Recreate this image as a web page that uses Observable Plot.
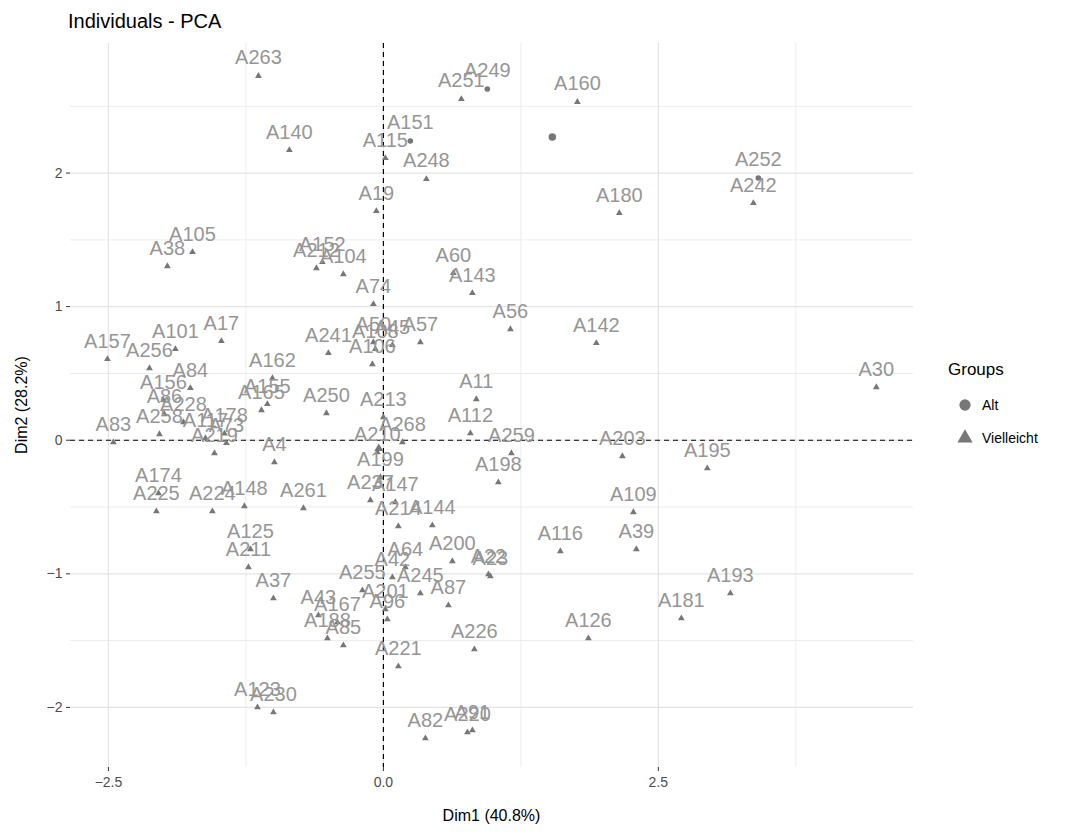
<!DOCTYPE html>
<html>
<head>
<meta charset="utf-8">
<script src="https://cdn.jsdelivr.net/npm/d3@7"></script>
<script src="https://cdn.jsdelivr.net/npm/@observablehq/plot@0.6"></script>
<style>
  html, body { margin: 0; padding: 0; background: #fff; }
  #wrap { position: relative; width: 1072px; height: 832px; font-family: "Liberation Sans", Arial, sans-serif; }
  #chart { position: absolute; left: 0; top: 0; }
  #title { position: absolute; left: 68px; top: 10px; font-size: 20px; color: #000; }
  #xlab { position: absolute; left: 70px; width: 843px; top: 807px; text-align: center; font-size: 16px; color: #000; }
  #ylab { position: absolute; left: 22px; top: 405px; font-size: 16px; color: #000; transform: translate(-50%, -50%) rotate(-90deg); white-space: nowrap; }
  #legend { position: absolute; left: 948px; top: 360px; }
  #legend .ttl { font-size: 17px; color: #000; margin-bottom: 8px; }
  #legend .item { display: flex; align-items: center; height: 33px; font-size: 14px; color: #000; }
  #legend svg { margin-right: 8px; margin-left: 8px; }
  svg [aria-label="x-axis tick"], svg [aria-label="y-axis tick"] { stroke: #333; }
  svg [aria-label="x-axis tick label"], svg [aria-label="y-axis tick label"] { fill: #4d4d4d; }
</style>
</head>
<body>
<div id="wrap">
  <div id="chart"></div>
  <div id="title">Individuals - PCA</div>
  <div id="xlab">Dim1 (40.8%)</div>
  <div id="ylab">Dim2 (28.2%)</div>
  <div id="legend"></div>
</div>
<script>
// ---- data ----
const names = [
  "A263","A140","A105","A38","A212","A152","A104","A249","A251","A160",
  "A151","A115","A248","A19","A180","A60","A143","A252","A242","A30",
  "A203","A195","A109","A39","A193","A181","A116","A126","A200","A23",
  "A22","A87","A245","A64","A42","A255","A201","A96","A221","A226",
  "A82","A91","A220","A74","A57","A50","A45","A106","A108","A11",
  "A112","A259","A198","A213","A268","A210","A199","A237","A147","A214",
  "A144","A157","A101","A256","A17","A241","A162","A84","A156","A86",
  "A258","A83","A228","A117","A178","A73","A219","A155","A165","A250",
  "A4","A174","A225","A224","A148","A261","A125","A211","A37","A43",
  "A167","A188","A85","A123","A230","A142","A56"
];
const dim1 = [
  -1.136,-0.855,-1.736,-1.964,-0.609,-0.555,-0.364,0.945,0.709,1.764,
  0.245,0.018,0.391,-0.064,2.145,0.636,0.809,3.409,3.364,4.482,
  2.173,2.945,2.273,2.300,3.155,2.709,1.609,1.864,0.627,0.973,
  0.955,0.591,0.336,0.200,0.082,-0.191,0.018,0.036,0.136,0.827,
  0.382,0.809,0.764,-0.091,0.336,-0.091,0.082,-0.100,-0.073,0.845,
  0.791,1.164,1.045,0.000,0.173,-0.055,-0.027,-0.118,0.109,0.136,
  0.445,-2.509,-1.891,-2.127,-1.473,-0.500,-1.009,-1.755,-2.000,-1.991,
  -2.036,-2.455,-1.818,-1.618,-1.445,-1.427,-1.536,-1.055,-1.109,-0.518,
  -0.991,-2.045,-2.064,-1.555,-1.264,-0.727,-1.209,-1.227,-1.000,-0.591,
  -0.418,-0.509,-0.364,-1.145,-1.000,1.936,1.155
];
const dim2 = [
  2.727,2.172,1.408,1.303,1.288,1.333,1.243,2.629,2.554,2.532,
  2.240,2.112,1.955,1.715,1.700,1.251,1.101,1.963,1.775,0.397,
  -0.120,-0.210,-0.539,-0.816,-1.146,-1.333,-0.831,-1.483,-0.906,-1.019,
  -1.004,-1.236,-1.146,-0.951,-1.026,-1.124,-1.266,-1.341,-1.693,-1.566,
  -2.232,-2.172,-2.187,1.019,0.734,0.734,0.712,0.569,0.682,0.307,
  0.052,-0.097,-0.315,0.172,-0.015,-0.090,-0.277,-0.449,-0.464,-0.644,
  -0.637,0.607,0.682,0.539,0.742,0.652,0.464,0.390,0.300,0.195,
  0.045,-0.015,0.135,0.015,0.050,-0.022,-0.097,0.270,0.225,0.202,
  -0.165,-0.397,-0.532,-0.532,-0.494,-0.509,-0.816,-0.951,-1.184,-1.311,
  -1.363,-1.483,-1.536,-2.000,-2.037,0.727,0.831
];
const groups = names.map(n => ["A249","A151","A252"].includes(n) ? "Alt" : "Vielleicht");
const groupNames = ["Alt", "Vielleicht"];
const groupMeans = [[1.536, 2.270], [-0.042, -0.062]];
const xTicks = [-2.5, 0, 2.5];
const yTicks = [-2, -1, 0, 1, 2];
const xMinor = [-1.25, 1.25, 3.75];
const yMinor = [-1.5, -0.5, 0.5, 1.5, 2.5];

const inds = names.map((n, i) => ({name: n, x: dim1[i], y: dim2[i], group: groups[i]}));
const centers = groupNames.map((g, i) => ({group: g, x: groupMeans[i][0], y: groupMeans[i][1]}));

const ptColor = "#777777";
const lblColor = "#969696";

const chart = Plot.plot({
  width: 1072, height: 832,
  marginLeft: 70, marginRight: 159, marginTop: 43, marginBottom: 65,
  style: {fontFamily: "'Liberation Sans', Arial, sans-serif", background: "transparent"},
  x: {domain: [-2.845, 4.82], label: null},
  y: {domain: [-2.45, 2.97], label: null},
  symbol: {domain: groupNames, range: ["circle", "triangle"]},
  marks: [
    Plot.gridX(xMinor, {stroke: "#ececec", strokeOpacity: 1, strokeWidth: 1}),
    Plot.gridY(yMinor, {stroke: "#ececec", strokeOpacity: 1, strokeWidth: 1}),
    Plot.gridX(xTicks, {stroke: "#e4e4e4", strokeOpacity: 1, strokeWidth: 1.2}),
    Plot.gridY(yTicks, {stroke: "#e4e4e4", strokeOpacity: 1, strokeWidth: 1.2}),
    Plot.ruleX([0], {stroke: "#000", strokeWidth: 1.2, strokeDasharray: "5,4"}),
    Plot.ruleY([0], {stroke: "#000", strokeWidth: 1.2, strokeDasharray: "5,4"}),
    Plot.axisX({ticks: xTicks, tickFormat: d3.format(".1f"), tickSize: 4, tickPadding: 6, fontSize: 14, label: null}),
    Plot.axisY({ticks: yTicks, tickFormat: d3.format("d"), tickSize: 4, tickPadding: 4, fontSize: 14, label: null}),
    Plot.dot(inds, {x: "x", y: "y", symbol: "group", fill: ptColor, stroke: "none",
      r: d => d.group === "Alt" ? 3.6 : 2.9}),
    Plot.dot(centers, {x: "x", y: "y", symbol: "group", fill: ptColor, stroke: "none",
      r: d => d.group === "Alt" ? 6.5 : 5}),
    Plot.text(inds, {x: "x", y: "y", text: "name", dy: -18, fill: lblColor, fontSize: 20, textAnchor: "middle"})
  ]
});
document.getElementById("chart").appendChild(chart);

// legend
const lg = document.getElementById("legend");
const t = document.createElement("div"); t.className = "ttl"; t.textContent = "Groups"; lg.appendChild(t);
groupNames.forEach(g => {
  const row = document.createElement("div"); row.className = "item";
  const sym = g === "Alt" ? d3.symbolCircle : d3.symbolTriangle;
  const path = d3.symbol(sym, 100)();
  row.innerHTML = `<svg width="18" height="18" viewBox="-9 -9 18 18"><path d="${path}" fill="${ptColor}"/></svg><span>${g}</span>`;
  lg.appendChild(row);
});
</script>
</body>
</html>
